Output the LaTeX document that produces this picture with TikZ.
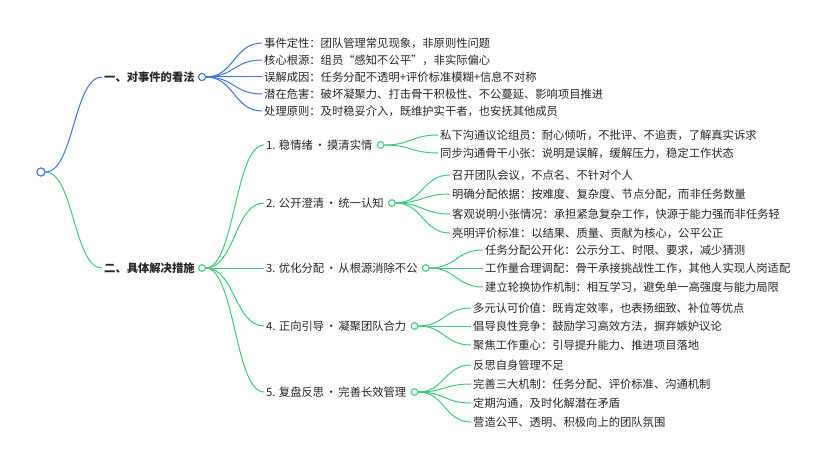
\documentclass[tikz,border=0pt]{standalone}
\usepackage{fontspec}
\setmainfont{Noto Sans CJK SC}
\usetikzlibrary{calc}
\begin{document}
\begin{tikzpicture}[x=1pt,y=-1pt,
  txt/.style={anchor=west,inner sep=0pt,font=\fontsize{11.3}{13}\selectfont,text=black!85},
  bold/.style={txt,font=\fontsize{11.3}{13}\selectfont\bfseries},
  dotb/.style={circle,draw=blueC,line width=1pt,fill=white,inner sep=0pt,minimum size=8pt},
  dotg/.style={circle,draw=greenC,line width=0.9pt,fill=white,inner sep=0pt,minimum size=6.5pt},
  lb/.style={draw=blueC,line width=1pt},
  lg/.style={draw=greenC,line width=1pt}]
\definecolor{blueC}{HTML}{3D72E4}
\definecolor{greenC}{HTML}{3CCB78}
\useasboundingbox (0,0) rectangle (830,460);
\newcommand{\cur}[3]{\path (#2) coordinate (pp) (#3.west) ++(-2pt,0) coordinate (qq);
  \draw[#1] let \p1=(pp), \p2=(qq) in (pp) .. controls ({(\x1+\x2)/2},\y1) and ({(\x1+\x2)/2},\y2) .. (qq);}
\newcommand{\md}{\hspace{1.5pt}·\hspace{1.5pt}}
% nodes
\node[dotb] (root) at (41,172) {};
\node[bold] (A) at (104,77) {一、对事件的看法};
\node[dotb,minimum size=7pt] (Ac) at (202,77) {};
\node[bold] (B) at (104,268) {二、具体解决措施};
\node[dotg] (Bc) at (202,268) {};
\foreach \t [count=\i] in {事件定性：团队管理常见现象，非原则性问题,核心根源：组员“感知不公平”，非实际偏心,误解成因：任务分配不透明+评价标准模糊+信息不对称,潜在危害：破坏凝聚力、打击骨干积极性、不公蔓延、影响项目推进,处理原则：及时稳妥介入，既维护实干者，也安抚其他成员}
  {\node[txt] (a\i) at (264,{43+17*(\i-1)}) {\t};}
\node[txt] (g1) at (266,145) {1. 稳情绪\md 摸清实情};
\node[txt] (g2) at (266,203) {2. 公开澄清\md 统一认知};
\node[txt] (g3) at (266,268) {3. 优化分配\md 从根源消除不公};
\node[txt] (g4) at (266,326) {4. 正向引导\md 凝聚团队合力};
\node[txt] (g5) at (266,392) {5. 复盘反思\md 完善长效管理};
\foreach \i in {1,...,5} {\node[dotg] (g\i c) at ($(g\i.east)+(8,0)$) {};}
\node[txt] (l11) at (440,135) {私下沟通议论组员：耐心倾听，不批评、不追责，了解真实诉求};
\node[txt] (l12) at (440,153) {同步沟通骨干小张：说明是误解，缓解压力，稳定工作状态};
\node[txt] (l21) at (452,175) {召开团队会议，不点名、不针对个人};
\node[txt] (l22) at (452,194) {明确分配依据：按难度、复杂度、节点分配，而非任务数量};
\node[txt] (l23) at (452,214) {客观说明小张情况：承担紧急复杂工作，快源于能力强而非任务轻};
\node[txt] (l24) at (452,233) {亮明评价标准：以结果、质量、贡献为核心，公平公正};
\node[txt] (l31) at (485,250) {任务分配公开化：公示分工、时限、要求，减少猜测};
\node[txt] (l32) at (485,268) {工作量合理调配：骨干承接挑战性工作，其他人实现人岗适配};
\node[txt] (l33) at (485,287) {建立轮换协作机制：相互学习，避免单一高强度与能力局限};
\node[txt] (l41) at (473,308) {多元认可价值：既肯定效率，也表扬细致、补位等优点};
\node[txt] (l42) at (473,326) {倡导良性竞争：鼓励学习高效方法，摒弃嫉妒议论};
\node[txt] (l43) at (473,345) {聚焦工作重心：引导提升能力、推进项目落地};
\node[txt] (l51) at (473,365) {反思自身管理不足};
\node[txt] (l52) at (473,384) {完善三大机制：任务分配、评价标准、沟通机制};
\node[txt] (l53) at (473,403) {定期沟通，及时化解潜在矛盾};
\node[txt] (l54) at (473,422) {营造公平、透明、积极向上的团队氛围};
% connectors
\cur{lb}{root.east}{A}
\cur{lg}{root.east}{B}
\foreach \i in {1,...,5} {\cur{lb}{Ac.east}{a\i}}
\foreach \i in {1,...,5} {\cur{lg}{Bc.east}{g\i}}
\foreach \i in {1,2} {\cur{lg}{g1c.east}{l1\i}}
\foreach \i in {1,...,4} {\cur{lg}{g2c.east}{l2\i}}
\foreach \i in {1,...,3} {\cur{lg}{g3c.east}{l3\i}}
\foreach \i in {1,...,3} {\cur{lg}{g4c.east}{l4\i}}
\foreach \i in {1,...,4} {\cur{lg}{g5c.east}{l5\i}}
\node[dotb] at (root) {};
\node[dotb,minimum size=7pt] at (Ac) {};
\foreach \n in {Bc,g1c,g2c,g3c,g4c,g5c} \node[dotg] at (\n) {};
\end{tikzpicture}
\end{document}
